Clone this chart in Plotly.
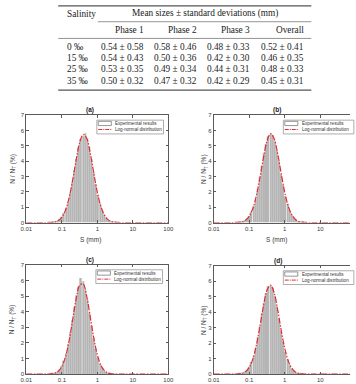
import numpy as np
import plotly.graph_objects as go

W, H = 356, 384

# ---------------- table data ----------------
salinity = ["0 ‰", "15 ‰", "25 ‰", "35 ‰"]
columns = ["Phase 1", "Phase 2", "Phase 3", "Overall"]
mean_sizes = [[0.54, 0.58, 0.48, 0.52],
              [0.54, 0.50, 0.42, 0.46],
              [0.53, 0.49, 0.44, 0.48],
              [0.50, 0.47, 0.42, 0.45]]
std_devs = [[0.58, 0.46, 0.33, 0.41],
            [0.43, 0.36, 0.30, 0.35],
            [0.35, 0.34, 0.31, 0.33],
            [0.32, 0.32, 0.29, 0.31]]

# ---------------- histogram data (S in mm, N/NT in %) ----------------
bin_sizes = [0.05012, 0.05754, 0.06607, 0.07586, 0.08710, 0.1000, 0.1148, 0.1318,
             0.1514, 0.1738, 0.1995, 0.2291, 0.2630, 0.3020, 0.3467, 0.3981,
             0.4571, 0.5248, 0.6026, 0.6918, 0.7943, 0.9120, 1.047, 1.202,
             1.380, 1.585, 1.820, 2.089, 2.399, 2.754, 3.162]
bars_a = [0.01, 0.03, 0.06, 0.12, 0.22, 0.38, 0.62, 0.95, 1.30, 1.92, 2.62, 3.40, 4.15, 4.90, 5.45, 5.62,
          5.82, 5.48, 4.92, 4.15, 3.30, 2.52, 1.80, 1.22, 0.80, 0.50, 0.30, 0.17, 0.09, 0.05, 0.02]
bars_b = [0.02, 0.04, 0.07, 0.14, 0.25, 0.42, 0.70, 1.08, 1.52, 2.22, 2.95, 3.70, 4.52, 5.12, 5.62, 5.78,
          5.72, 5.30, 4.70, 4.00, 3.15, 2.45, 1.72, 1.22, 0.76, 0.50, 0.28, 0.17, 0.08, 0.04, 0.02]
bars_c = [0.02, 0.04, 0.08, 0.15, 0.30, 0.52, 0.85, 1.35, 1.95, 2.70, 3.45, 4.30, 5.05, 5.62, 6.16, 5.95,
          5.40, 4.80, 3.95, 3.10, 2.30, 1.62, 1.05, 0.66, 0.40, 0.22, 0.12, 0.06, 0.03, 0.01, 0.01]
bars_d = [0.02, 0.04, 0.08, 0.15, 0.27, 0.48, 0.78, 1.18, 1.72, 2.40, 3.12, 3.95, 4.62, 5.25, 5.68, 5.72,
          5.58, 5.05, 4.38, 3.60, 2.80, 2.08, 1.45, 0.96, 0.60, 0.36, 0.20, 0.11, 0.06, 0.03, 0.01]

# log-normal fit curves, read at these sizes
curve_sizes = [0.01, 0.03162, 0.03981, 0.05012, 0.06310, 0.07943, 0.1, 0.1259, 0.1585, 0.1995,
               0.2512, 0.3162, 0.3981, 0.5012, 0.6310, 0.7943, 1.0, 1.259, 1.585, 1.995,
               2.512, 3.162, 3.981, 5.012, 6.310, 100]
curve_a = [0, 0.00, 0.003, 0.011, 0.040, 0.125, 0.34, 0.78, 1.56, 2.70, 4.03, 5.18, 5.74, 5.50, 4.53,
           3.23, 1.98, 1.05, 0.48, 0.19, 0.064, 0.019, 0.005, 0.001, 0.0, 0]
curve_b = [0, 0.001, 0.004, 0.016, 0.054, 0.16, 0.41, 0.91, 1.75, 2.93, 4.24, 5.32, 5.80, 5.47, 4.49,
           3.19, 1.96, 1.05, 0.49, 0.20, 0.068, 0.021, 0.005, 0.001, 0.0, 0]
curve_c = [0, 0.001, 0.004, 0.016, 0.058, 0.18, 0.48, 1.08, 2.07, 3.41, 4.77, 5.68, 5.78, 5.00, 3.69,
           2.32, 1.24, 0.57, 0.22, 0.073, 0.021, 0.005, 0.001, 0.0, 0.0, 0]
curve_d = [0, 0.001, 0.004, 0.016, 0.057, 0.17, 0.44, 0.97, 1.87, 3.09, 4.41, 5.43, 5.75, 5.27, 4.16,
           2.83, 1.66, 0.84, 0.37, 0.138, 0.045, 0.013, 0.003, 0.0, 0.0, 0]

x_tick_values = [0.01, 0.1, 1, 10, 100]
x_tick_labels = ["0.01", "0.1", "1", "10", "100"]
y_ticks = [0, 1, 2, 3, 4, 5, 6, 7]
panel_letters = ["(a)", "(b)", "(c)", "(d)"]
legend_labels = ["Experimental results", "Log-normal distribution"]


def px(x):
    return x / W


def py(y):
    return 1 - y / H


RED = "rgb(226,44,48)"
AX = "#5a5a5a"
TXT = "#3a3a3a"
SANS = "Liberation Sans, Arial, sans-serif"
SERIF = "Liberation Serif, Times New Roman, serif"
DASH = "6px,1.5px,1.5px,1.5px"

fig = go.Figure()
annotations = []
shapes = []

# panel geometry (pixels)
panels = [
    dict(L=21, R=168, T=114, B=223, xr=[-2, 2], bars=bars_a, curve=curve_a,
         title_x=87, ylab_x=7, xlab_y=241, leg=(94, 163, 119), mirror_y=True),
    dict(L=215, R=356, T=114, B=223, xr=[-2, -2 + 141 * 4 / 147], bars=bars_b, curve=curve_b,
         title_x=280, ylab_x=205, xlab_y=241, leg=(287, 360, 119), mirror_y=False),
    dict(L=21, R=168, T=266, B=377, xr=[-2, 2], bars=bars_c, curve=curve_c,
         title_x=87, ylab_x=7, xlab_y=None, leg=(93, 162, 271), mirror_y=True),
    dict(L=215, R=356, T=267, B=377, xr=[-2, -2 + 141 * 4 / 147], bars=bars_d, curve=curve_d,
         title_x=282, ylab_x=205, xlab_y=None, leg=(287, 360, 272), mirror_y=False),
]

log_bins = np.log10(bin_sizes)
log_curve = np.log10(curve_sizes)
log_ticks = np.log10(x_tick_values)

for i, p in enumerate(panels):
    k = "" if i == 0 else str(i + 1)
    xa, ya = "x" + k, "y" + k
    fig.add_trace(go.Bar(x=log_bins, y=p["bars"], xaxis=xa, yaxis=ya,
                         marker=dict(color="#b5b5b5", line=dict(width=0)),
                         name=legend_labels[0], showlegend=False))
    fig.add_trace(go.Scatter(x=log_curve, y=p["curve"], xaxis=xa, yaxis=ya, mode="lines",
                             line=dict(color=RED, width=1.2, dash=DASH, shape="spline"),
                             name=legend_labels[1], showlegend=False))
    common = dict(showgrid=False, zeroline=False, showline=True, linecolor=AX, linewidth=1,
                  ticks="inside", ticklen=2.5, tickcolor=AX, tickwidth=0.8,
                  tickfont=dict(family=SANS, size=6, color=TXT))
    fig.layout["xaxis" + k] = dict(domain=[px(p["L"]), px(p["R"])], range=p["xr"],
                                   tickmode="array", tickvals=list(log_ticks), ticktext=x_tick_labels,
                                   anchor=ya, mirror="ticks", **common)
    fig.layout["yaxis" + k] = dict(domain=[py(p["B"]), py(p["T"])], range=[0, 7],
                                   tickmode="array", tickvals=y_ticks,
                                   anchor=xa, mirror="ticks" if p["mirror_y"] else False, **common)
    # title
    annotations.append(dict(x=px(p["title_x"]), y=py(p["T"] - 5), text="<b>" + panel_letters[i] + "</b>",
                            font=dict(family=SANS, size=6.5, color="#222")))
    # axis labels
    annotations.append(dict(x=px(p["ylab_x"]), y=py((p["T"] + p["B"]) / 2), textangle=-90,
                            text="N / N<sub>T</sub> (%)", font=dict(family=SANS, size=6.5, color=TXT)))
    if p["xlab_y"] is not None:
        annotations.append(dict(x=px(p["title_x"]), y=py(p["xlab_y"]), text="S (mm)",
                                font=dict(family=SANS, size=6.5, color=TXT)))
    # legend box
    l0, l1, lt = p["leg"]
    shapes.append(dict(type="rect", x0=px(l0), x1=px(l1), y0=py(lt), y1=py(lt + 14),
                       line=dict(color="#8a8a8a", width=0.7), fillcolor="white", layer="above"))
    shapes.append(dict(type="rect", x0=px(l0 + 1.5), x1=px(l0 + 15), y0=py(lt + 1.2), y1=py(lt + 5.5),
                       line=dict(color="#6a6a6a", width=0.7), fillcolor="white", layer="above"))
    shapes.append(dict(type="line", x0=px(l0 + 1.5), x1=px(l0 + 15.5), y0=py(lt + 9.5), y1=py(lt + 9.5),
                       line=dict(color=RED, width=1, dash="4px,1px,1px,1px"), layer="above"))
    for j, lab in enumerate(legend_labels):
        annotations.append(dict(x=px(l0 + 17), y=py(lt + 3.5 + 6 * j), text=lab, xanchor="left",
                                font=dict(family=SANS, size=4.6, color="#333")))

# ---------------- table ----------------
T_L, T_R = 54, 316
shapes.append(dict(type="line", x0=px(T_L), x1=px(T_R), y0=py(3), y1=py(3),
                   line=dict(color="#555", width=1.2)))
shapes.append(dict(type="line", x0=px(95), x1=px(T_R), y0=py(19), y1=py(19),
                   line=dict(color="#666", width=0.7)))
shapes.append(dict(type="line", x0=px(T_L), x1=px(T_R), y0=py(36), y1=py(36),
                   line=dict(color="#666", width=0.7)))
shapes.append(dict(type="line", x0=px(T_L), x1=px(T_R), y0=py(88.5), y1=py(88.5),
                   line=dict(color="#555", width=1.2)))

tfont = dict(family=SERIF, size=9.3, color="#222")
annotations.append(dict(x=px(61), y=py(11), text="Salinity", xanchor="left", font=tfont))
annotations.append(dict(x=px(205.5), y=py(11), text="Mean sizes ± standard deviations (mm)", font=tfont))
col_right = [145, 200, 255, 310]
for c, name in enumerate(columns):
    annotations.append(dict(x=px(col_right[c]), y=py(27.5), text=name, xanchor="right", font=tfont))
row_y = [44.5, 56, 67, 79]
for r, sal in enumerate(salinity):
    annotations.append(dict(x=px(61), y=py(row_y[r]), text=sal, xanchor="left", font=tfont))
    for c in range(4):
        annotations.append(dict(x=px(col_right[c]), y=py(row_y[r]),
                                text=f"{mean_sizes[r][c]:.2f} ± {std_devs[r][c]:.2f}",
                                xanchor="right", font=tfont))

for a in annotations:
    a.setdefault("xref", "paper")
    a.setdefault("yref", "paper")
    a.setdefault("showarrow", False)
    a.setdefault("yanchor", "middle")
    a.setdefault("xanchor", "center")
for s in shapes:
    s["xref"] = "paper"
    s["yref"] = "paper"

fig.update_layout(width=W, height=H, autosize=False, margin=dict(l=0, r=0, t=0, b=0),
                  paper_bgcolor="white", plot_bgcolor="white", bargap=0.3,
                  annotations=annotations, shapes=shapes, showlegend=False)

fig.write_html("out.html")
